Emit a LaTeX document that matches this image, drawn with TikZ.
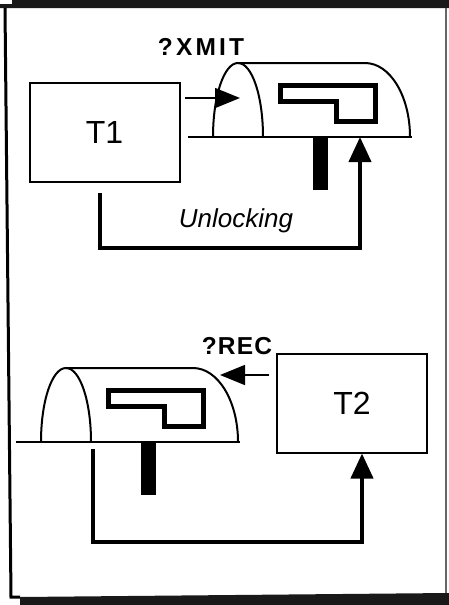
\documentclass[tikz,border=0pt]{standalone}
\usepackage{fontspec}
\setmainfont{Liberation Sans}
\usetikzlibrary{arrows.meta, positioning}

\begin{document}
\begin{tikzpicture}[x=1pt, y=-1pt,
    % Styles for the parts
    term/.style={rectangle, draw=black, line width=2pt, minimum width=150pt, minimum height=99pt, inner sep=0pt, font=\fontsize{32}{36}\selectfont},
    tag/.style={inner sep=0pt, font=\fontsize{24.5}{28}\selectfont\bfseries},
    note/.style={inner sep=0pt, font=\fontsize{26}{30}\selectfont\itshape},
    feed/.style={line width=1.5pt, -{Triangle[length=25pt, width=20pt]}},
    link/.style={line width=4pt, -{Triangle[length=25pt, width=22pt]}},
    mailbox/.pic={
        % ground line
        \draw[line width=2pt] (-25,0) -- (199,0);
        % door and body
        \draw[line width=2pt] (0,0) .. controls (0,-41) and (11,-74) .. (25,-74)
            .. controls (39,-74) and (50,-41) .. (50,0);
        \draw[line width=2pt] (25,-74) -- (152,-74) .. controls (177,-74) and (197,-41) .. (197,0);
        % flag
        \draw[line width=5pt] (67,-52) -- (162,-52) -- (162,-16) -- (123,-16)
            -- (123,-35.5) -- (67,-35.5) -- cycle;
        % post
        \fill (100,0) rectangle (115,53);
        \coordinate (-base) at (147,0);
        \coordinate (-leg) at (52,7);
    }
]
\useasboundingbox (0,0) rectangle (449,605);

% Frame
\fill[black!90] (0,4) -- (12,4) -- (12,0) -- (449,0) -- (449,8) -- (0,8) -- cycle;
\draw[line width=3pt] (5,8) -- (11,597) -- (20,597);
\draw[black!60, line width=1.5pt] (446,8) -- (446,593);
\fill[black!90] (20,597) -- (449,593) -- (449,605) -- (20,605) -- cycle;

% Transmit side
\node[term] (t1) at (104.5,132.5) {T1};
\pic (top) at (213,137) {mailbox};
\node[tag] (xmit) at (201,47) {\addfontfeature{LetterSpace=13}?XMIT};
\coordinate (x0) at (185,98);
\coordinate (x1) at (240,98);
\draw[feed] (x0) -- (x1);

% Unlocking path
\coordinate (u0) at (100,193);
\coordinate (u1) at (100,248);
\draw[link] (u0) -- (u1) -| (top-base);
\node[note, anchor=base] (unl) at (236,227) {Unlocking};

% Receive side
\node[term] (t2) at (352,403) {T2};
\pic (low) at (41,442) {mailbox};
\node[tag] (rec) at (237,346) {\addfontfeature{LetterSpace=5}?REC};
\coordinate (r0) at (269,375);
\coordinate (r1) at (220,375);
\draw[feed] (r0) -- (r1);

\coordinate (v1) at (362,542);
\draw[link] (low-leg) |- (v1) -- (v1 |- t2.south);

\end{tikzpicture}
\end{document}
